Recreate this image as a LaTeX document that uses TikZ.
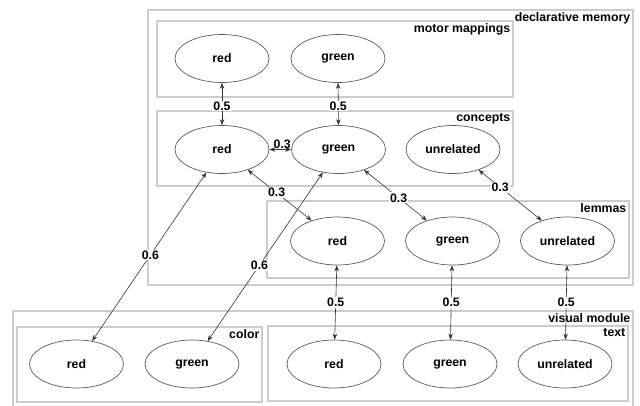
\documentclass[tikz,border=0pt]{standalone}
\usepackage{fontspec}
\setmainfont{Liberation Sans}
\usetikzlibrary{shapes.geometric,arrows.meta}

\begin{document}
\begin{tikzpicture}[x=1pt,y=-1pt]
	\tikzset{>={Stealth[length=6pt,width=4.5pt]}}
	\tikzset{chunk/.style={ellipse,draw=black!65,line width=0.7pt,minimum width=94pt,minimum height=48pt,inner sep=0pt,font=\fontsize{12.3}{14}\selectfont\bfseries}}
	\tikzset{module/.style={draw=black!20,line width=1.3pt}}
	\tikzset{modname/.style={anchor=north east,inner sep=2.5pt,font=\fontsize{12.3}{14}\selectfont\bfseries}}
	\tikzset{assoc/.style={<->,draw=black!80,line width=0.6pt}}
	\tikzset{weight/.style={fill=white,inner sep=1pt,font=\fontsize{12.3}{14}\selectfont\bfseries}}
	\useasboundingbox (0,0) rectangle (640,405);
	% modules and buffers
	\draw[module] (148,10) rectangle (633,285);
	\node[modname] (dm) at (633,10) {declarative memory};
	\draw[module] (157,21) rectangle (513,97);
	\node[modname] (mm) at (513,21) {motor mappings};
	\draw[module] (157,111) rectangle (513,186);
	\node[modname] (co) at (513,111) {concepts};
	\draw[module] (267,201) rectangle (629,278);
	\node[modname] (le) at (629,201) {lemmas};
	\draw[module] (13,311) rectangle (633,412);
	\node[modname] (vm) at (633,311) {visual module};
	\draw[module] (17,327) rectangle (262,402);
	\node[modname] (col) at (262,327) {color};
	\draw[module] (268,326) rectangle (628,401);
	\node[modname] (txt) at (628,326) {text};
	% chunks
	\node[chunk] (mm-red) at (222,58.5) {red};
	\node[chunk] (mm-green) at (338,58.5) {green};
	\node[chunk] (c-red) at (222,149.5) {red};
	\node[chunk] (c-green) at (338.5,149.5) {green};
	\node[chunk] (c-unrel) at (453,149.5) {unrelated};
	\node[chunk] (l-red) at (337.5,241) {red};
	\node[chunk] (l-green) at (452.5,241) {green};
	\node[chunk] (l-unrel) at (567.5,241) {unrelated};
	\node[chunk] (col-red) at (76.5,364) {red};
	\node[chunk] (col-green) at (192,364) {green};
	\node[chunk] (t-red) at (334,364) {red};
	\node[chunk] (t-green) at (450,364) {green};
	\node[chunk] (t-unrel) at (565,364) {unrelated};
	% associations
	\draw[assoc] (mm-red) -- node[weight,pos=0.55] {0.5} (c-red);
	\draw[assoc] (mm-green) -- node[weight,pos=0.55] {0.5} (c-green);
	\draw[assoc] (c-red) -- node[above,inner sep=1pt,font=\fontsize{12.3}{14}\selectfont\bfseries,xshift=2pt] {0.3} (c-green);
	\draw[assoc] (c-red) -- node[weight,pos=0.45] {0.3} (l-red);
	\draw[assoc] (c-green) -- node[weight,pos=0.55] {0.3} (l-green);
	\draw[assoc] (c-unrel) -- node[weight,pos=0.34] {0.3} (l-unrel);
	\draw[assoc] (c-red) -- node[weight,pos=0.49] {0.6} (col-red);
	\draw[assoc] (c-green) -- node[weight,pos=0.55] {0.6} (col-green);
	\draw[assoc] (l-red) -- node[weight,pos=0.5] {0.5} (t-red);
	\draw[assoc] (l-green) -- node[weight,pos=0.5] {0.5} (t-green);
	\draw[assoc] (l-unrel) -- node[weight,pos=0.5] {0.5} (t-unrel);
\end{tikzpicture}
\end{document}
